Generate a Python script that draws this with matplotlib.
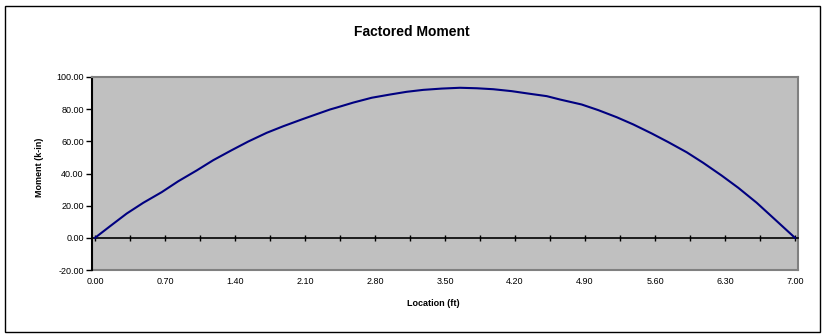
import matplotlib.pyplot as plt
import numpy as np
from matplotlib.patches import Rectangle

# Data
location = [0.00, 0.15, 0.317, 0.483, 0.667, 0.833, 1.017, 1.183, 1.367, 1.533,
            1.717, 1.883, 2.067, 2.217, 2.35, 2.417, 2.583, 2.767, 2.95, 3.117,
            3.283, 3.467, 3.65, 3.817, 3.983, 4.167, 4.333, 4.517, 4.65, 4.867,
            5.033, 5.217, 5.383, 5.567, 5.733, 5.917, 6.083, 6.267, 6.433, 6.617,
            6.80, 7.00]
moment = [0.0, 7.2, 15.1, 21.8, 28.4, 35.2, 41.9, 48.3, 54.5, 59.9,
          65.3, 69.4, 73.6, 76.9, 79.8, 81.0, 84.1, 87.1, 89.1, 90.8,
          92.0, 92.8, 93.3, 93.0, 92.4, 91.2, 89.7, 88.1, 86.0, 82.9,
          79.4, 75.0, 70.5, 64.9, 59.5, 53.2, 46.6, 38.7, 31.1, 21.8,
          11.4, 0.0]

x_labels = np.arange(0, 7.01, 0.70)
x_minor = np.arange(0, 7.01, 0.35)
y_ticks = np.arange(-20, 101, 20)

plt.rcParams['font.family'] = ['Liberation Sans', 'DejaVu Sans']

W, H = 824, 336
fig = plt.figure(figsize=(W / 100, H / 100), dpi=100)

# outer chart border
fig.patches.append(Rectangle((5 / W, 1 - 332 / H), 815 / W, 326 / H,
                             transform=fig.transFigure, fill=False,
                             edgecolor="black", linewidth=1.0))

ax = fig.add_axes([92 / W, 1 - 270 / H, 706 / W, 193 / H])
ax.set_facecolor("#C0C0C0")

ax.plot(location, moment, color="#000080", linewidth=1.5, zorder=3)

ax.set_xlim(-0.03, 7.03)
ax.set_ylim(-20, 100)

# y axis
ax.set_yticks(y_ticks)
ax.set_yticklabels([f"{v:.2f}" for v in y_ticks], fontsize=6.5)
ax.tick_params(axis="y", direction="out", length=4, width=1, pad=2)
ax.spines["left"].set_linewidth(1.5)
ax.spines["left"].set_color("black")

# x axis line at zero with crossing ticks
ax.spines["bottom"].set_position(("data", 0))
ax.spines["bottom"].set_linewidth(1.2)
ax.set_xticks(x_minor)
ax.tick_params(axis="x", direction="inout", length=5, width=1, labelbottom=False)

for s in ["top", "right"]:
    ax.spines[s].set_color("#808080")
    ax.spines[s].set_linewidth(1.5)

# labels along the bottom of the plot area
sec = ax.secondary_xaxis("bottom")
sec.set_xticks(x_labels)
sec.set_xticklabels([f"{v:.2f}" for v in x_labels], fontsize=6.5)
sec.tick_params(length=0, pad=5)
sec.spines["bottom"].set_color("#808080")
sec.spines["bottom"].set_linewidth(1.5)

fig.text(412 / W, 1 - 32 / H, "Factored Moment", ha="center", va="center",
         fontsize=10, fontweight="bold")
fig.text(433 / W, 1 - 303 / H, "Location (ft)", ha="center", va="center",
         fontsize=6.5, fontweight="bold")
fig.text(40 / W, 1 - 167 / H, "Moment (k-in)", ha="center", va="center",
         rotation=90, fontsize=6.5, fontweight="bold")

fig.savefig("out.png", dpi=100)
